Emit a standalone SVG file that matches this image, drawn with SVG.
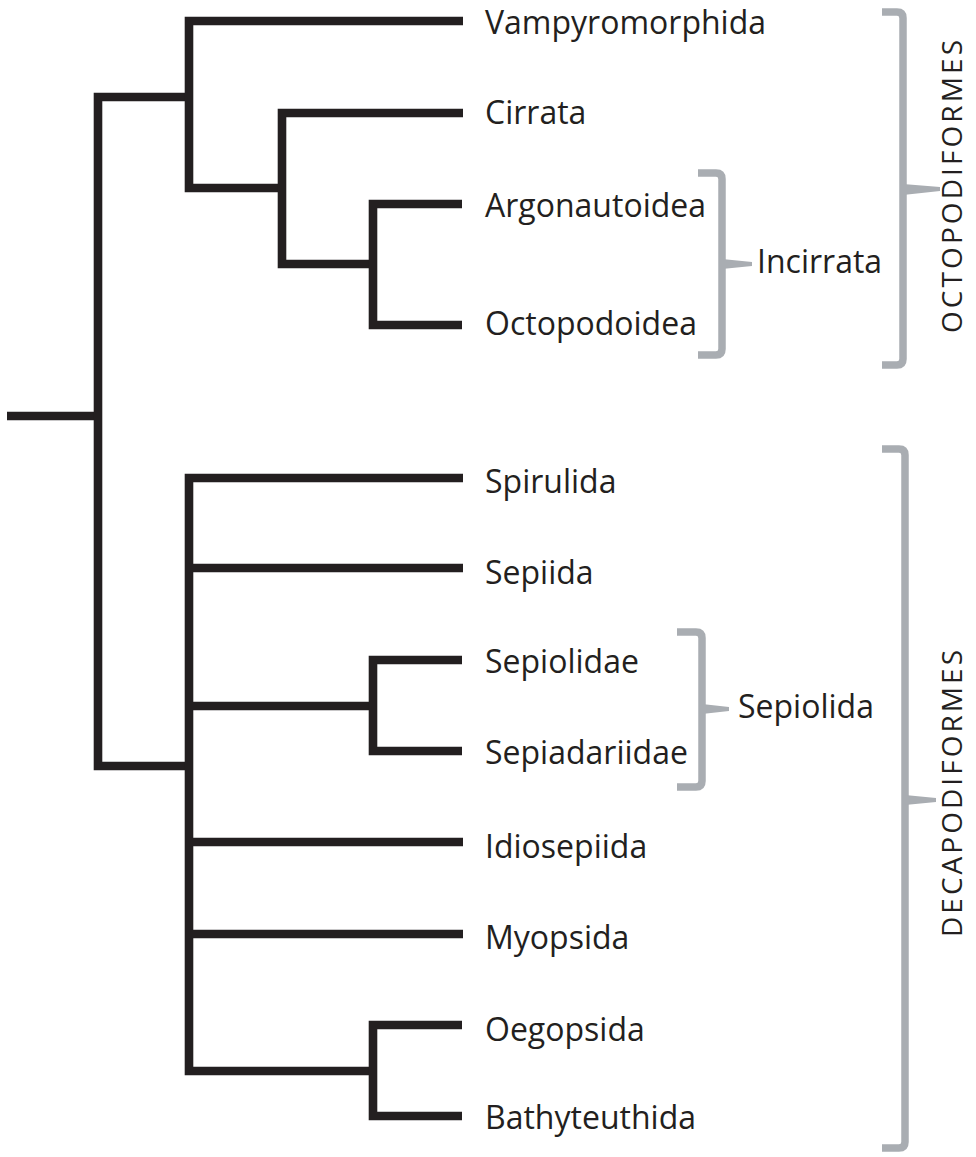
<svg xmlns="http://www.w3.org/2000/svg" width="976" height="1157" viewBox="0 0 976 1157">
  <style>
    .br { fill: none; stroke: #231f20; stroke-width: 8.6; stroke-linejoin: miter; stroke-linecap: butt; }
    .lbl { font-family: "Open Sans", "Liberation Sans", sans-serif; font-size: 32px; fill: #231f20; }
    .grp { font-family: "Open Sans", "Liberation Sans", sans-serif; font-size: 28px; fill: #231f20; }
    .bk { fill: none; stroke: #a9adb2; stroke-width: 7.5; stroke-linejoin: round; stroke-linecap: butt; }
    .tick { fill: #a9adb2; }
  </style>
  <rect width="976" height="1157" fill="#ffffff"/>

  <g id="connectors">
    <path class="br" d="M7,416 H98"/>
    <path class="br" d="M189,97 H98 V766 H189"/>
    <path class="br" d="M463,21 H189 V188 H282"/>
    <path class="br" d="M463,113 H282 V264 H373"/>
    <path class="br" d="M462,204 H373 V325 H462"/>
    <path class="br" d="M463,478 H189 V1071 H373"/>
    <path class="br" d="M189,568 H463"/>
    <path class="br" d="M189,706 H373"/>
    <path class="br" d="M189,842 H463"/>
    <path class="br" d="M189,934 H463"/>
    <path class="br" d="M462,660 H373 V751 H462"/>
    <path class="br" d="M462,1025 H373 V1116 H462"/>
  </g>

  <g id="node-vampyromorphida"><text class="lbl" x="485" y="34">Vampyromorphida</text></g>
  <g id="node-cirrata"><text class="lbl" x="485" y="124">Cirrata</text></g>
  <g id="node-argonautoidea"><text class="lbl" x="485" y="217">Argonautoidea</text></g>
  <g id="node-octopodoidea"><text class="lbl" x="485" y="335">Octopodoidea</text></g>
  <g id="node-spirulida"><text class="lbl" x="485" y="493">Spirulida</text></g>
  <g id="node-sepiida"><text class="lbl" x="485" y="584">Sepiida</text></g>
  <g id="node-sepiolidae"><text class="lbl" x="485" y="673">Sepiolidae</text></g>
  <g id="node-sepiadariidae"><text class="lbl" x="485" y="764">Sepiadariidae</text></g>
  <g id="node-idiosepiida"><text class="lbl" x="485" y="858">Idiosepiida</text></g>
  <g id="node-myopsida"><text class="lbl" x="485" y="949">Myopsida</text></g>
  <g id="node-oegopsida"><text class="lbl" x="485" y="1041">Oegopsida</text></g>
  <g id="node-bathyteuthida"><text class="lbl" x="485" y="1129">Bathyteuthida</text></g>

  <g id="group-incirrata">
    <path class="bk" d="M698,173 H716 Q722,173 722,179 V349 Q722,355 716,355 H698"/>
    <path class="tick" d="M722,259 L752,262 L752,266 L722,269 Z"/>
    <text class="lbl" x="757" y="273">Incirrata</text>
  </g>

  <g id="group-sepiolida">
    <path class="bk" d="M677,632 H696 Q702,632 702,638 V781 Q702,787 696,787 H677"/>
    <path class="tick" d="M702,704 L729,707 L729,711 L702,714 Z"/>
    <text class="lbl" x="738" y="718">Sepiolida</text>
  </g>

  <g id="group-octopodiformes">
    <path class="bk" d="M882,12 H897 Q903,12 903,18 V359 Q903,365 897,365 H882"/>
    <path class="tick" d="M903,184 L940,187 L940,191 L903,195 Z"/>
    <text class="grp" transform="translate(962,333) rotate(-90)" x="0" y="0" textLength="293" lengthAdjust="spacing">OCTOPODIFORMES</text>
  </g>

  <g id="group-decapodiformes">
    <path class="bk" d="M882,449 H899 Q905,449 905,455 V1142 Q905,1148 899,1148 H882"/>
    <path class="tick" d="M905,795 L936,798 L936,802 L905,805 Z"/>
    <text class="grp" transform="translate(962,937) rotate(-90)" x="0" y="0" textLength="287" lengthAdjust="spacing">DECAPODIFORMES</text>
  </g>
</svg>
